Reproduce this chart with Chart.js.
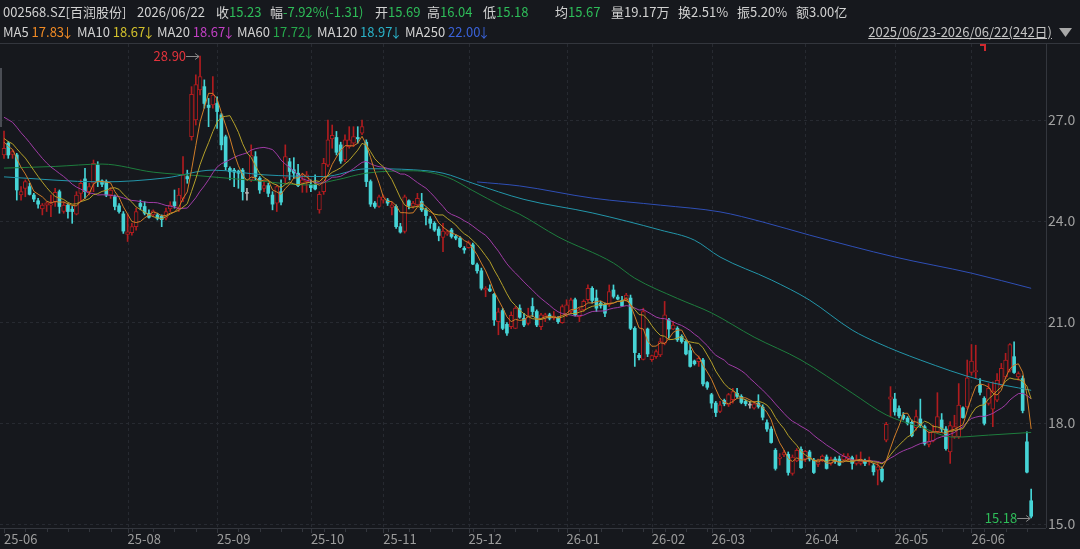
<!DOCTYPE html>
<html>
<head>
<meta charset="utf-8">
<script src="https://cdn.jsdelivr.net/npm/chart.js@4"></script>
<style>
  html, body { margin: 0; padding: 0; background: #16181d; overflow: hidden; }
  body { width: 1080px; height: 549px; position: relative; font-family: "Noto Sans CJK SC", "Noto Sans", sans-serif; font-size: 13px; color: #d2d2d2; }
  .t { position: absolute; white-space: nowrap; line-height: 18px; z-index: 2; }
  .g { color: #2ebd59; }
  .ar { display: inline-block; margin: 0 -3px 0 -3px; }
  #chart { position: absolute; left: 0; top: 0; z-index: 1; }
  #scroll { position: absolute; left: 0; top: 68px; width: 2px; height: 59px; background: #4a4d54; z-index: 2; }
  #flag { position: absolute; left: 980px; top: 44px; width: 4px; height: 5px; border-top: 2px solid #d0282e; border-right: 2px solid #d0282e; z-index: 2; }
</style>
</head>
<body>
<canvas id="chart" width="1080" height="549"></canvas>
<!-- header row 1 -->
<span class="t" style="left:3px;top:3px">002568.SZ[百润股份]</span>
<span class="t" style="left:137px;top:3px">2026/06/22</span>
<span class="t" style="left:216px;top:3px">收<span class="g">15.23</span></span>
<span class="t" style="left:270px;top:3px">幅<span class="g">-7.92%(-1.31)</span></span>
<span class="t" style="left:375px;top:3px">开<span class="g">15.69</span></span>
<span class="t" style="left:427px;top:3px">高<span class="g">16.04</span></span>
<span class="t" style="left:483px;top:3px">低<span class="g">15.18</span></span>
<span class="t" style="left:555px;top:3px">均<span class="g">15.67</span></span>
<span class="t" style="left:611px;top:3px">量19.17万</span>
<span class="t" style="left:678px;top:3px">换2.51%</span>
<span class="t" style="left:737px;top:3px">振5.20%</span>
<span class="t" style="left:796px;top:3px">额3.00亿</span>
<!-- header row 2 -->
<span class="t" style="left:3px;top:23px">MA5 <span style="color:#f08a24">17.83<span class="ar">↓</span></span></span>
<span class="t" style="left:77px;top:23px">MA10 <span style="color:#d2c02c">18.67<span class="ar">↓</span></span></span>
<span class="t" style="left:157px;top:23px">MA20 <span style="color:#c240c4">18.67<span class="ar">↓</span></span></span>
<span class="t" style="left:237px;top:23px">MA60 <span style="color:#26a84c">17.72<span class="ar">↓</span></span></span>
<span class="t" style="left:317px;top:23px">MA120 <span style="color:#2ab2c8">18.97<span class="ar">↓</span></span></span>
<span class="t" style="left:405px;top:23px">MA250 <span style="color:#3a62d8">22.00<span class="ar">↓</span></span></span>
<span class="t" style="right:28px;top:23px;text-decoration:underline;color:#c4c4c4">2025/06/23-2026/06/22(242日)</span>
<div id="scroll"></div>
<div id="flag"></div>

<script>
// daily candles, 2025/06/23 .. 2026/06/22 (242 trading days)
const opens = [
  25.96, 26.31, 25.98, 25.96, 24.77, 24.97, 25.02, 24.77, 24.60, 24.36,
  24.47, 24.47, 24.57, 24.87, 24.28, 24.47, 24.35, 24.20, 24.82, 25.25,
  24.87, 25.12, 25.66, 25.19, 25.17, 24.77, 24.72, 24.45, 24.21, 23.60,
  23.65, 23.83, 24.52, 24.43, 24.23, 24.18, 24.18, 24.14, 24.08, 24.36,
  24.57, 24.38, 24.67, 25.32, 26.50, 27.00, 27.89, 27.99, 27.44, 27.45,
  27.49, 27.15, 26.50, 25.56, 25.51, 25.48, 25.51, 24.82, 25.22, 25.91,
  25.27, 24.97, 25.05, 24.77, 24.53, 24.87, 25.27, 25.76, 25.52, 25.42,
  25.12, 25.17, 25.09, 25.07, 24.33, 24.87, 25.66, 26.44, 26.48, 26.26,
  25.81, 26.21, 26.31, 26.48, 26.61, 26.34, 25.17, 24.53, 24.43, 24.62,
  24.62, 24.40, 24.43, 23.83, 23.69, 24.60, 24.43, 24.48, 24.58, 24.33,
  24.06, 23.93, 23.76, 23.51, 23.61, 23.73, 23.54, 23.49, 23.19, 23.21,
  23.29, 22.70, 22.52, 21.95, 21.98, 21.82, 21.01, 21.34, 20.93, 20.86,
  20.81, 21.41, 21.11, 20.96, 21.46, 21.31, 20.86, 21.11, 21.21, 21.11,
  21.11, 20.98, 21.21, 21.31, 21.66, 21.16, 21.36, 21.66, 22.00, 21.71,
  21.56, 21.51, 21.51, 21.95, 21.74, 21.64, 21.66, 21.71, 20.81, 20.01,
  19.89, 20.79, 19.88, 19.97, 20.02, 20.37, 21.06, 20.79, 20.81, 20.57,
  20.42, 20.15, 19.84, 19.82, 19.87, 19.20, 18.84, 18.59, 18.34, 18.67,
  18.54, 18.69, 18.88, 18.79, 18.64, 18.53, 18.44, 18.59, 18.47, 18.01,
  17.82, 17.19, 16.95, 17.05, 17.07, 16.50, 16.87, 17.22, 16.93, 17.14,
  16.90, 16.77, 16.90, 16.99, 16.80, 16.93, 16.93, 16.90, 16.93, 16.97,
  16.80, 16.80, 16.87, 16.85, 16.73, 16.60, 16.63, 17.49, 18.71, 18.71,
  18.43, 18.23, 18.14, 18.02, 17.86, 18.12, 17.89, 17.36, 17.46, 17.74,
  18.09, 17.82, 17.14, 17.59, 17.59, 18.45, 18.48, 19.50, 19.52, 19.14,
  18.73, 18.58, 18.41, 18.68, 19.12, 19.37, 19.57, 19.97, 19.37, 19.32,
  17.44, 15.69
];
const highs = [
  26.67, 26.36, 26.11, 26.01, 25.02, 25.22, 25.12, 24.82, 24.67, 24.52,
  24.57, 24.77, 24.97, 24.92, 24.57, 24.52, 24.43, 24.87, 25.22, 25.56,
  25.12, 25.81, 25.76, 25.22, 25.22, 24.99, 24.77, 24.52, 24.28, 24.20,
  23.93, 24.38, 24.62, 24.57, 24.33, 24.33, 24.23, 24.18, 24.38, 24.57,
  24.92, 24.97, 25.91, 25.51, 27.99, 28.34, 28.90, 28.19, 27.64, 28.29,
  27.69, 27.20, 26.55, 25.61, 25.56, 25.51, 25.56, 24.97, 26.26, 26.06,
  25.32, 25.17, 25.12, 24.87, 25.07, 25.22, 26.26, 25.86, 25.88, 25.68,
  25.42, 25.47, 25.22, 25.37, 24.87, 25.86, 27.00, 26.85, 26.66, 26.34,
  26.56, 26.80, 26.80, 26.80, 27.00, 26.41, 25.22, 24.58, 24.77, 24.77,
  24.67, 24.56, 24.48, 23.93, 24.77, 24.63, 24.58, 24.82, 24.82, 24.38,
  24.13, 23.98, 23.83, 23.93, 23.73, 23.78, 23.59, 23.54, 23.24, 23.41,
  23.34, 22.75, 22.60, 22.05, 22.10, 21.85, 21.41, 21.40, 20.98, 21.30,
  21.46, 21.51, 21.26, 21.41, 21.71, 21.36, 21.26, 21.26, 21.26, 21.31,
  21.16, 21.51, 21.66, 21.71, 21.71, 21.41, 21.66, 22.10, 22.05, 21.95,
  21.61, 21.56, 22.10, 22.10, 21.80, 21.76, 21.85, 21.80, 20.86, 20.07,
  21.41, 20.82, 20.02, 20.17, 20.52, 21.61, 21.11, 21.01, 20.86, 20.62,
  20.47, 20.32, 19.87, 19.99, 19.92, 19.23, 18.88, 18.64, 18.64, 18.71,
  18.88, 19.03, 19.03, 18.84, 18.69, 18.64, 18.64, 18.84, 18.54, 18.09,
  17.89, 17.24, 17.09, 17.19, 17.14, 17.05, 17.24, 17.29, 17.19, 17.19,
  16.95, 16.93, 17.05, 17.05, 16.99, 16.99, 17.02, 17.09, 17.09, 17.02,
  17.05, 17.14, 16.93, 16.99, 16.80, 16.83, 16.70, 18.02, 19.08, 18.88,
  18.51, 18.31, 18.19, 18.09, 18.38, 18.71, 17.94, 17.74, 17.94, 18.90,
  18.28, 17.89, 18.04, 18.23, 19.17, 18.48, 19.87, 20.33, 20.31, 19.32,
  18.78, 19.17, 19.22, 19.47, 19.77, 20.07, 20.36, 20.41, 19.52, 19.40,
  17.74, 16.04
];
const lows = [
  25.86, 25.86, 25.86, 24.62, 24.62, 24.72, 24.77, 24.57, 24.38, 24.18,
  24.28, 24.13, 24.43, 24.23, 24.23, 24.08, 23.93, 24.18, 24.57, 24.67,
  24.77, 24.87, 25.02, 25.02, 24.72, 24.67, 24.33, 24.23, 23.63, 23.39,
  23.58, 23.73, 24.33, 24.18, 24.08, 24.13, 24.03, 23.83, 24.03, 24.28,
  24.38, 24.28, 24.57, 25.12, 26.40, 26.85, 27.74, 27.35, 26.80, 27.35,
  26.75, 26.11, 25.51, 25.22, 25.02, 24.97, 24.62, 24.62, 25.17, 25.22,
  24.82, 24.87, 24.72, 24.33, 24.28, 24.48, 25.12, 25.22, 25.27, 25.02,
  24.85, 24.85, 24.87, 24.92, 24.23, 24.79, 25.61, 26.16, 25.96, 25.71,
  25.76, 26.16, 26.21, 26.31, 26.56, 25.02, 24.43, 24.38, 24.40, 24.53,
  24.46, 24.18, 23.78, 23.64, 23.64, 24.36, 24.38, 24.43, 24.28, 23.88,
  23.78, 23.69, 23.41, 23.09, 23.57, 23.49, 23.44, 23.21, 23.04, 23.19,
  22.70, 22.45, 21.95, 21.75, 21.90, 20.90, 20.62, 20.77, 20.60, 20.80,
  20.80, 21.11, 20.86, 20.91, 21.16, 20.86, 20.77, 21.01, 21.06, 21.06,
  20.96, 20.96, 21.16, 21.26, 21.18, 21.01, 21.31, 21.61, 21.56, 21.31,
  21.41, 21.16, 21.46, 21.71, 21.66, 21.46, 21.61, 20.77, 19.68, 19.87,
  19.87, 19.97, 19.83, 19.92, 19.97, 20.32, 20.52, 20.77, 20.42, 20.37,
  20.02, 19.66, 19.72, 19.68, 19.10, 19.00, 18.44, 18.19, 18.31, 18.51,
  18.49, 18.59, 18.74, 18.57, 18.51, 18.44, 18.41, 18.44, 18.09, 17.75,
  17.40, 16.60, 16.75, 17.00, 16.45, 16.45, 16.85, 16.65, 16.85, 16.87,
  16.50, 16.70, 16.85, 16.63, 16.75, 16.80, 16.73, 16.87, 16.85, 16.63,
  16.75, 16.75, 16.73, 16.75, 16.45, 16.16, 16.25, 17.44, 18.18, 18.23,
  18.15, 18.09, 17.94, 17.59, 17.79, 17.86, 17.34, 17.29, 17.44, 17.69,
  17.74, 17.19, 16.80, 17.54, 17.54, 18.14, 18.43, 19.42, 19.32, 18.83,
  17.94, 18.53, 17.89, 18.63, 19.08, 19.32, 19.52, 19.47, 19.27, 18.30,
  16.52, 15.18
];
const closes = [
  26.16, 25.96, 26.06, 24.92, 24.87, 25.17, 24.79, 24.65, 24.50, 24.47,
  24.54, 24.52, 24.85, 24.43, 24.47, 24.28, 24.28, 24.77, 25.12, 24.87,
  25.02, 25.71, 25.17, 25.09, 24.77, 24.92, 24.43, 24.28, 23.70, 23.68,
  23.83, 24.28, 24.43, 24.23, 24.11, 24.30, 24.08, 24.04, 24.28, 24.47,
  24.45, 24.77, 25.37, 25.25, 27.76, 28.05, 28.29, 27.49, 27.37, 27.74,
  27.25, 26.26, 25.61, 25.46, 25.45, 25.42, 24.87, 24.82, 25.96, 25.32,
  24.92, 25.05, 24.82, 24.50, 25.02, 24.56, 25.91, 25.47, 25.42, 25.05,
  25.22, 25.37, 24.99, 24.95, 24.79, 25.71, 26.41, 26.54, 26.04, 25.78,
  26.41, 26.41, 26.51, 26.44, 26.80, 25.17, 24.50, 24.43, 24.72, 24.72,
  24.53, 24.48, 23.83, 23.67, 24.72, 24.46, 24.53, 24.67, 24.33, 24.16,
  23.93, 23.73, 23.57, 23.70, 23.68, 23.54, 23.49, 23.24, 23.14, 23.36,
  22.72, 22.52, 22.00, 22.00, 21.92, 21.06, 21.30, 20.81, 20.67, 21.20,
  21.41, 21.14, 20.91, 21.16, 21.31, 20.91, 21.21, 21.21, 21.11, 21.18,
  21.01, 21.46, 21.51, 21.66, 21.21, 21.36, 21.61, 22.00, 21.64, 21.41,
  21.48, 21.26, 21.90, 21.76, 21.68, 21.48, 21.80, 20.81, 20.09, 19.94,
  21.31, 20.05, 20.00, 20.12, 20.42, 21.21, 20.79, 20.91, 20.47, 20.42,
  20.05, 19.68, 19.76, 19.92, 19.16, 19.06, 18.59, 18.31, 18.54, 18.57,
  18.84, 18.93, 18.79, 18.61, 18.57, 18.53, 18.57, 18.49, 18.17, 17.82,
  17.42, 16.65, 16.99, 17.12, 16.53, 16.99, 17.19, 16.67, 17.16, 16.93,
  16.53, 16.90, 17.02, 16.65, 16.93, 16.85, 16.75, 17.02, 17.02, 16.80,
  16.90, 16.87, 16.80, 16.90, 16.55, 16.70, 16.30, 17.96, 18.78, 18.33,
  18.21, 18.14, 17.99, 17.62, 18.19, 17.92, 17.39, 17.46, 17.72, 18.19,
  17.82, 17.24, 17.92, 17.89, 18.53, 18.16, 19.34, 19.84, 19.56, 18.91,
  17.99, 19.03, 18.95, 19.27, 19.62, 19.87, 20.33, 19.50, 19.47, 18.37,
  16.54, 15.23
];
// closes of the 19 sessions before the window (estimated from where MA5/10/20 start)
const prevCloses = [
  27.4, 27.6, 27.9, 28.1, 28.0, 27.8, 27.9, 27.6, 27.5, 27.3,
  26.9, 26.7, 26.4, 26.3, 26.5, 26.6, 26.5, 26.3, 26.15
];

// long averages: [day index, value]
const ma60Points = [
  [0, 25.57], [12, 25.62], [23, 25.69], [35, 25.45], [46, 25.34], [59, 25.2],
  [71, 25.07], [78, 25.22], [85, 25.42], [96, 25.49], [104, 25.3], [110, 24.9],
  [117, 24.43], [121, 24.2], [130, 23.53], [143, 22.75], [148, 22.3], [158, 21.7],
  [166, 21.27], [176, 20.55], [187, 19.87], [199, 18.89], [207, 18.24], [215, 17.88],
  [223, 17.58], [231, 17.64], [241, 17.72]
];
const ma120Points = [
  [0, 25.31], [23, 25.16], [38, 25.28], [49, 25.51], [61, 25.37], [75, 25.32],
  [85, 25.55], [96, 25.52], [103, 25.42], [110, 25.12], [122, 24.64], [138, 24.24],
  [154, 23.73], [162, 23.43], [168, 22.93], [180, 22.25], [189, 21.65], [199, 20.76],
  [205, 20.38], [215, 19.87], [229, 19.28], [241, 18.97]
];
const ma250Points = [
  [111, 25.16], [121, 25.04], [138, 24.68], [154, 24.47], [168, 24.27], [178, 23.97],
  [189, 23.58], [209, 22.93], [227, 22.45], [241, 22.0]
];

const monthStarts = [0, 29, 50, 72, 89, 109, 132, 152, 166, 188, 209, 227];
const monthLabels = ['25-06', '25-08', '25-09', '25-10', '25-11', '25-12',
  '26-01', '26-02', '26-03', '26-04', '26-05', '26-06'];
const priceTicks = [15, 18, 21, 24, 27];

const bg = '#16181d';
const upColor = '#b01c1f';
const downColor = '#46d4d6';
const flatColor = '#b4b4b4';

function candleColor(i) {
  if (closes[i] > opens[i]) return upColor;
  if (closes[i] < opens[i]) return downColor;
  return flatColor;
}

function movingAvg(n) {
  const all = prevCloses.concat(closes);
  const off = prevCloses.length;
  return closes.map((c, i) => {
    let s = 0;
    for (let k = 0; k < n; k++) s += all[off + i - k];
    return { x: i, y: s / n };
  });
}

const toXY = pts => pts.map(p => ({ x: p[0], y: p[1] }));

const idx = closes.map((c, i) => i);
const upIdx = idx.filter(i => closes[i] > opens[i]);
const downIdx = idx.filter(i => closes[i] <= opens[i]);

function maLine(label, data, color, smooth) {
  return {
    type: 'line', label, data, order: 0,
    borderColor: color, borderWidth: 1, pointRadius: 0,
    cubicInterpolationMode: smooth ? 'monotone' : 'default', tension: 0
  };
}

const frame = {
  id: 'frame',
  beforeDatasetsDraw(chart) {
    const { ctx, chartArea: a, scales: { x, y } } = chart;
    ctx.save();
    ctx.lineWidth = 1;
    ctx.strokeStyle = '#272a31';
    ctx.setLineDash([3, 3]);
    priceTicks.forEach(v => {
      const py = Math.round(y.getPixelForValue(v)) + 0.5;
      ctx.beginPath(); ctx.moveTo(a.left, py); ctx.lineTo(a.right, py); ctx.stroke();
    });
    monthStarts.forEach(i => {
      if (i === 0) return;
      const px = Math.round(x.getPixelForValue(i)) + 0.5;
      ctx.beginPath(); ctx.moveTo(px, a.top); ctx.lineTo(px, a.bottom); ctx.stroke();
    });
    ctx.setLineDash([]);
    ctx.strokeStyle = '#33363d';
    ctx.beginPath();
    ctx.moveTo(0, a.top - 0.5); ctx.lineTo(chart.width, a.top - 0.5);
    ctx.moveTo(a.left, a.bottom + 0.5); ctx.lineTo(a.right, a.bottom + 0.5);
    ctx.moveTo(a.right + 0.5, a.top); ctx.lineTo(a.right + 0.5, a.bottom);
    ctx.stroke();
    // weekly ticks under the axis
    ctx.beginPath();
    for (let i = 0; i < closes.length; i += 5) {
      const px = Math.round(x.getPixelForValue(i)) + 0.5;
      ctx.moveTo(px, a.bottom); ctx.lineTo(px, a.bottom + 4);
    }
    monthStarts.forEach(i => {
      const px = Math.round(x.getPixelForValue(i)) + 0.5;
      ctx.moveTo(px, a.bottom); ctx.lineTo(px, a.bottom + 5);
    });
    ctx.stroke();
    ctx.restore();
  },
  afterDatasetsDraw(chart) {
    const { ctx, scales: { x, y } } = chart;
    const hi = Math.max(...highs), lo = Math.min(...lows);
    const marks = [
      { i: highs.indexOf(hi), v: hi, color: '#e2333c' },
      { i: lows.indexOf(lo), v: lo, color: '#2ebd59' }
    ];
    ctx.save();
    ctx.font = '13px "Noto Sans CJK SC", "Noto Sans", sans-serif';
    ctx.textAlign = 'right';
    ctx.textBaseline = 'middle';
    marks.forEach(m => {
      const px = x.getPixelForValue(m.i), py = Math.round(y.getPixelForValue(m.v)) + 0.5;
      ctx.fillStyle = m.color;
      ctx.fillText(m.v.toFixed(2), px - 14, py);
      ctx.strokeStyle = '#8a8a8a';
      ctx.lineWidth = 1;
      ctx.beginPath();
      ctx.moveTo(px - 14, py); ctx.lineTo(px - 1, py);
      ctx.moveTo(px - 5, py - 3); ctx.lineTo(px - 1, py); ctx.lineTo(px - 5, py + 3);
      ctx.stroke();
    });
    // dropdown marker after the date range
    ctx.fillStyle = '#a8a8a8';
    ctx.beginPath();
    ctx.moveTo(1059, 28); ctx.lineTo(1072, 28); ctx.lineTo(1065.5, 37);
    ctx.closePath();
    ctx.fill();
    ctx.restore();
  }
};

new Chart(document.getElementById('chart'), {
  data: {
    datasets: [
      maLine('MA5', movingAvg(5), '#d07d28', false),
      maLine('MA10', movingAvg(10), '#b4a02a', false),
      maLine('MA20', movingAvg(20), '#a03ca6', false),
      maLine('MA60', toXY(ma60Points), '#1e7e3e', true),
      maLine('MA120', toXY(ma120Points), '#2396aa', true),
      maLine('MA250', toXY(ma250Points), '#2f4fb6', true),
      {
        type: 'bar', label: 'up', order: 1, grouped: false,
        data: upIdx.map(i => ({ x: i, y: [opens[i], closes[i]] })),
        backgroundColor: bg, borderColor: upColor, borderWidth: 1,
        borderSkipped: false, barThickness: 4, minBarLength: 1
      },
      {
        type: 'bar', label: 'down', order: 1, grouped: false,
        data: downIdx.map(i => ({ x: i, y: [opens[i], closes[i]] })),
        backgroundColor: downIdx.map(candleColor), borderColor: downIdx.map(candleColor),
        borderWidth: 0, barThickness: 3, minBarLength: 1
      },
      {
        type: 'bar', label: 'wick', order: 2, grouped: false,
        data: idx.map(i => ({ x: i, y: [lows[i], highs[i]] })),
        backgroundColor: idx.map(candleColor),
        borderWidth: 0, barThickness: 1, minBarLength: 1
      }
    ]
  },
  options: {
    responsive: false,
    animation: false,
    devicePixelRatio: 1,
    layout: { padding: { top: 44, left: 0, right: 0, bottom: 0 } },
    plugins: { legend: { display: false }, tooltip: { enabled: false } },
    scales: {
      x: {
        type: 'linear', min: -0.94, max: 244.48, offset: false,
        grid: { display: false, drawTicks: false }, border: { display: false },
        afterBuildTicks: axis => { axis.ticks = monthStarts.map(v => ({ value: v })); },
        afterFit: axis => { axis.height = 21; },
        ticks: {
          autoSkip: false, maxRotation: 0, align: 'start', padding: 3,
          color: '#9c9c9c', font: { size: 13, family: '"Noto Sans CJK SC", "Noto Sans", sans-serif' },
          callback: v => monthLabels[monthStarts.indexOf(v)]
        }
      },
      y: {
        position: 'right', min: 14.881, max: 29.256,
        grid: { display: false, drawTicks: false }, border: { display: false },
        afterBuildTicks: axis => { axis.ticks = priceTicks.map(v => ({ value: v })); },
        afterFit: axis => { axis.width = 34; },
        ticks: {
          padding: 2, color: '#a0a0a0',
          font: { size: 14, family: '"Noto Sans CJK SC", "Noto Sans", sans-serif' },
          callback: v => v.toFixed(1)
        }
      }
    }
  },
  plugins: [frame]
});
</script>
</body>
</html>
